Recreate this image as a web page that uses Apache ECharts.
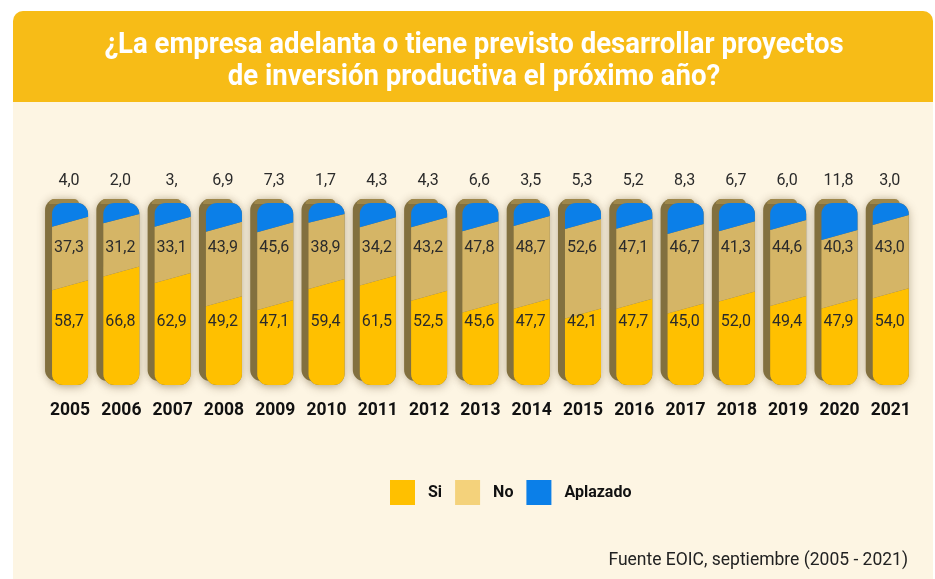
<!DOCTYPE html>
<html>
<head>
<meta charset="utf-8">
<script src="https://cdn.jsdelivr.net/npm/echarts@6/dist/echarts.min.js"></script>
<style>
  html, body { margin: 0; padding: 0; background: #fff; }
  #chart { width: 935px; height: 579px; }
</style>
</head>
<body>
<div id="chart"></div>
<script>
// data
const years = ['2005', '2006', '2007', '2008', '2009', '2010', '2011', '2012', '2013',
  '2014', '2015', '2016', '2017', '2018', '2019', '2020', '2021'];
const si = [58.7, 66.8, 62.9, 49.2, 47.1, 59.4, 61.5, 52.5, 45.6, 47.7, 42.1, 47.7, 45.0, 52.0, 49.4, 47.9, 54.0];
const no = [37.3, 31.2, 33.1, 43.9, 45.6, 38.9, 34.2, 43.2, 47.8, 48.7, 52.6, 47.1, 46.7, 41.3, 44.6, 40.3, 43.0];
const aplazado = [4.0, 2.0, 3.0, 6.9, 7.3, 1.7, 4.3, 4.3, 6.6, 3.5, 5.3, 5.2, 8.3, 6.7, 6.0, 11.8, 3.0];
// the source shows the 2007 value cut off
const aplazadoLabelOverride = { 2: '3,' };

const colors = { si: '#ffc000', no: '#d5b566', noLegend: '#f4d27b', apl: '#0b7fe8', back: '#82703f' };

const Y_MAX = 107;
const HALF = 18;      // half width of the pill face
const RADIUS = 11;
const SLANT = 5;
const LABEL_SI = 37.3, LABEL_NO = 80.5, LABEL_TOP = 120.2;

const fmt = v => v.toFixed(1).replace('.', ',');

function arc(pts, cx, cy, r, a0, a1) {
  const n = 8;
  for (let k = 0; k <= n; k++) {
    const a = (a0 + (a1 - a0) * k / n) * Math.PI / 180;
    pts.push([cx + r * Math.cos(a), cy + r * Math.sin(a)]);
  }
}

function geom(api) {
  const i = api.value(0);
  const bottom = api.coord([i, 0]);
  const top = api.coord([i, Y_MAX]);
  return { i, c: bottom[0], x0: bottom[0] - HALF, x1: bottom[0] + HALF, yb: bottom[1], yt: top[1] };
}

function edge(api, i, v) {
  const y = api.coord([i, v])[1];
  return [y + SLANT, y - SLANT];
}

function label(api, i, v, text) {
  const p = api.coord([i, v]);
  return {
    type: 'text', x: p[0] - 1, y: p[1], z2: 10,
    style: { text, fill: '#2b2b2b', font: '16px Roboto', align: 'center', verticalAlign: 'middle' }
  };
}

function renderBack(params, api) {
  const g = geom(api);
  return {
    type: 'group',
    children: [
      { type: 'rect', shape: { x: g.x0, y: g.yt, width: HALF * 2, height: g.yb - g.yt, r: RADIUS },
        style: { fill: colors.back, shadowBlur: 10, shadowColor: 'rgba(70,50,0,0.35)', shadowOffsetY: 2 } },
      { type: 'rect', shape: { x: g.x0 - 7, y: g.yt - 4, width: HALF * 2, height: g.yb - g.yt, r: RADIUS },
        style: { fill: colors.back, shadowBlur: 8, shadowColor: 'rgba(70,50,0,0.3)' } },
      { type: 'rect', shape: { x: g.x0 - 3, y: g.yt - 4, width: HALF * 2 - 6, height: 5, r: [RADIUS, RADIUS, 0, 0] },
        style: { fill: '#9e874b' } }
    ]
  };
}

function renderSi(params, api) {
  const g = geom(api);
  const [yl, yr] = edge(api, g.i, si[g.i]);
  const pts = [[g.x0, yl]];
  arc(pts, g.x0 + RADIUS, g.yb - RADIUS, RADIUS, 180, 90);
  arc(pts, g.x1 - RADIUS, g.yb - RADIUS, RADIUS, 90, 0);
  pts.push([g.x1, yr]);
  return {
    type: 'group',
    children: [
      { type: 'polygon', shape: { points: pts }, style: { fill: colors.si } },
      label(api, g.i, LABEL_SI, fmt(si[g.i]))
    ]
  };
}

function renderNo(params, api) {
  const g = geom(api);
  const [l0, r0] = edge(api, g.i, si[g.i]);
  const [l1, r1] = edge(api, g.i, si[g.i] + no[g.i]);
  const top = g.yt + RADIUS;
  const pts = [[g.x0, l0], [g.x1, r0], [g.x1, Math.max(r1, top)], [g.x0, Math.max(l1, top)]];
  return {
    type: 'group',
    children: [
      { type: 'polygon', shape: { points: pts }, style: { fill: colors.no } },
      label(api, g.i, LABEL_NO, fmt(no[g.i]))
    ]
  };
}

function renderApl(params, api) {
  const g = geom(api);
  const [l1, r1] = edge(api, g.i, si[g.i] + no[g.i]);
  const top = g.yt + RADIUS;
  const pts = [[g.x1, Math.max(r1, top)], [g.x0, Math.max(l1, top)]];
  arc(pts, g.x0 + RADIUS, g.yt + RADIUS, RADIUS, 180, 270);
  arc(pts, g.x1 - RADIUS, g.yt + RADIUS, RADIUS, 270, 360);
  const txt = aplazadoLabelOverride[g.i] || fmt(aplazado[g.i]);
  return {
    type: 'group',
    children: [
      { type: 'polygon', shape: { points: pts }, style: { fill: colors.apl } },
      label(api, g.i, LABEL_TOP, txt)
    ]
  };
}

const idx = years.map((y, i) => [i]);

const chart = echarts.init(document.getElementById('chart'));
chart.setOption({
  backgroundColor: '#ffffff',
  animation: false,
  graphic: [
    { type: 'rect', z: -10, shape: { x: 13, y: 11, width: 920, height: 568, r: [10, 10, 0, 0] }, style: { fill: '#fdf5e3' } },
    { type: 'rect', z: -9, shape: { x: 13, y: 11, width: 920, height: 91, r: [10, 10, 0, 0] }, style: { fill: '#f7bc17' } },
    // title, squeezed horizontally to look like the condensed original face
    { type: 'text', x: 474, y: 62, scaleX: 0.95,
      style: {
        text: '¿La empresa adelanta o tiene previsto desarrollar proyectos\nde inversión productiva el próximo año?',
        fill: '#fff', font: 'bold 29px Roboto', lineHeight: 32, align: 'center', verticalAlign: 'middle'
      } },
    { type: 'text', right: 27, top: 552,
      style: { text: 'Fuente EOIC, septiembre (2005 - 2021)', fill: '#222', font: '17.5px Roboto' } }
  ],
  legend: {
    left: 390, top: 480, padding: 0,
    itemWidth: 25, itemHeight: 25, itemGap: 13,
    icon: 'rect',
    textStyle: { fontSize: 16, fontWeight: 'bold', color: '#111', fontFamily: 'Roboto', padding: [0, 0, 0, 8] },
    data: [
      { name: 'Si', itemStyle: { color: colors.si } },
      { name: 'No', itemStyle: { color: colors.noLegend } },
      { name: 'Aplazado', itemStyle: { color: colors.apl } }
    ]
  },
  grid: { left: 44.4, right: 18.6, top: 203, bottom: 194 },
  xAxis: {
    type: 'category', data: years,
    axisLine: { show: false }, axisTick: { show: false },
    axisLabel: { interval: 0, margin: 17, fontSize: 17.5, fontWeight: 'bold', color: '#111', fontFamily: 'Roboto' }
  },
  yAxis: { type: 'value', min: 0, max: Y_MAX, show: false, splitLine: { show: false } },
  series: [
    { type: 'custom', name: 'back', data: idx, renderItem: renderBack, encode: { x: 0 }, silent: true },
    { type: 'custom', name: 'Si', data: idx, renderItem: renderSi, encode: { x: 0 }, itemStyle: { color: colors.si } },
    { type: 'custom', name: 'No', data: idx, renderItem: renderNo, encode: { x: 0 }, itemStyle: { color: colors.noLegend } },
    { type: 'custom', name: 'Aplazado', data: idx, renderItem: renderApl, encode: { x: 0 }, itemStyle: { color: colors.apl } }
  ]
});
</script>
</body>
</html>
